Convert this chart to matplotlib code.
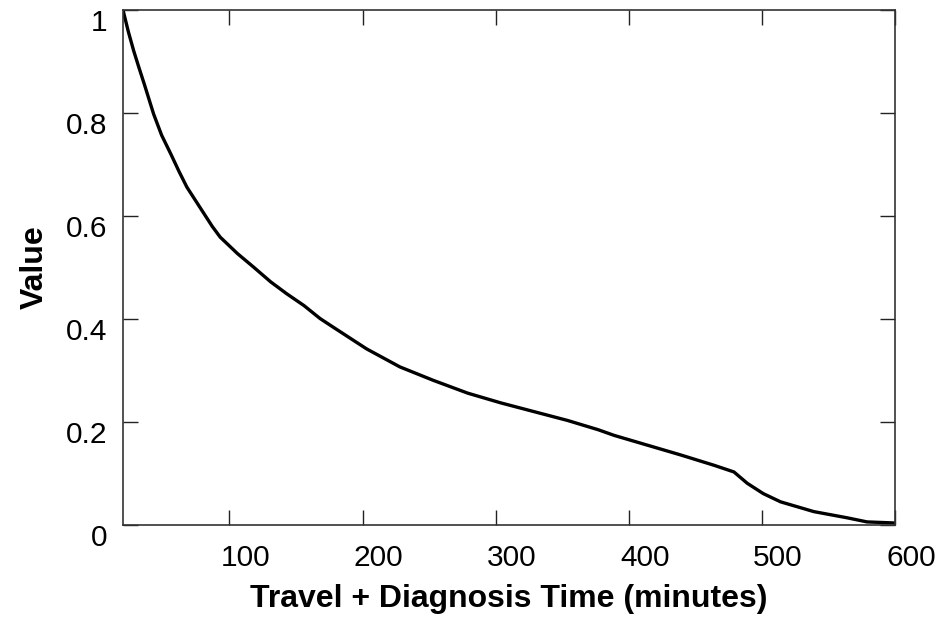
import numpy as np
import matplotlib.pyplot as plt
from matplotlib.transforms import ScaledTranslation

# curve (time in minutes, value)
time_min = [20, 24, 28, 32, 36, 43, 49, 56, 62, 68, 75, 81, 87, 93, 106,
            118, 131, 143, 156, 168, 178, 203, 228, 253, 279, 304, 329,
            354, 377, 389, 414, 439, 464, 479, 489, 501, 514, 539, 564,
            579, 599]
value = [1.0, 0.958, 0.921, 0.888, 0.856, 0.798, 0.757, 0.720, 0.687,
         0.656, 0.628, 0.604, 0.580, 0.559, 0.527, 0.501, 0.472, 0.449,
         0.426, 0.401, 0.384, 0.342, 0.307, 0.281, 0.256, 0.237, 0.220,
         0.203, 0.185, 0.174, 0.155, 0.136, 0.116, 0.103, 0.081, 0.061,
         0.045, 0.026, 0.014, 0.006, 0.004]

x_ticks = [100, 200, 300, 400, 500, 600]
y_ticks = [0, 0.2, 0.4, 0.6, 0.8, 1.0]

plt.rcParams['font.family'] = ['Liberation Sans', 'DejaVu Sans']

fig = plt.figure(figsize=(9.45, 6.25), dpi=100)
ax = fig.add_axes([123/945, 1 - 525/625, (895 - 123)/945, (525 - 10)/625])

ax.plot(time_min, value, color='black', lw=2.4)

ax.set_xlim(20, 600)
ax.set_ylim(0, 1)
ax.set_xticks(x_ticks)
ax.set_yticks(y_ticks)
ax.set_yticklabels(['%g' % v for v in y_ticks])

ax.tick_params(direction='in', length=11, width=1.0, top=True, right=True,
               labelsize=21.5, color='#222222')
ax.tick_params(axis='x', pad=14)
ax.tick_params(axis='y', pad=11)
for s in ax.spines.values():
    s.set_linewidth(1.2)
    s.set_color('#333333')

# labels in the reference sit a little off their ticks
for lab in ax.get_xticklabels():
    lab.set_transform(lab.get_transform() + ScaledTranslation(0.16, 0, fig.dpi_scale_trans))
for lab in ax.get_yticklabels():
    lab.set_transform(lab.get_transform() + ScaledTranslation(0, -0.10, fig.dpi_scale_trans))

ax.set_xlabel('Travel + Diagnosis Time (minutes)', fontsize=23,
              fontweight='bold', labelpad=8)
ax.set_ylabel('Value', fontsize=23, fontweight='bold', labelpad=12)

fig.savefig('out.png', dpi=100)
